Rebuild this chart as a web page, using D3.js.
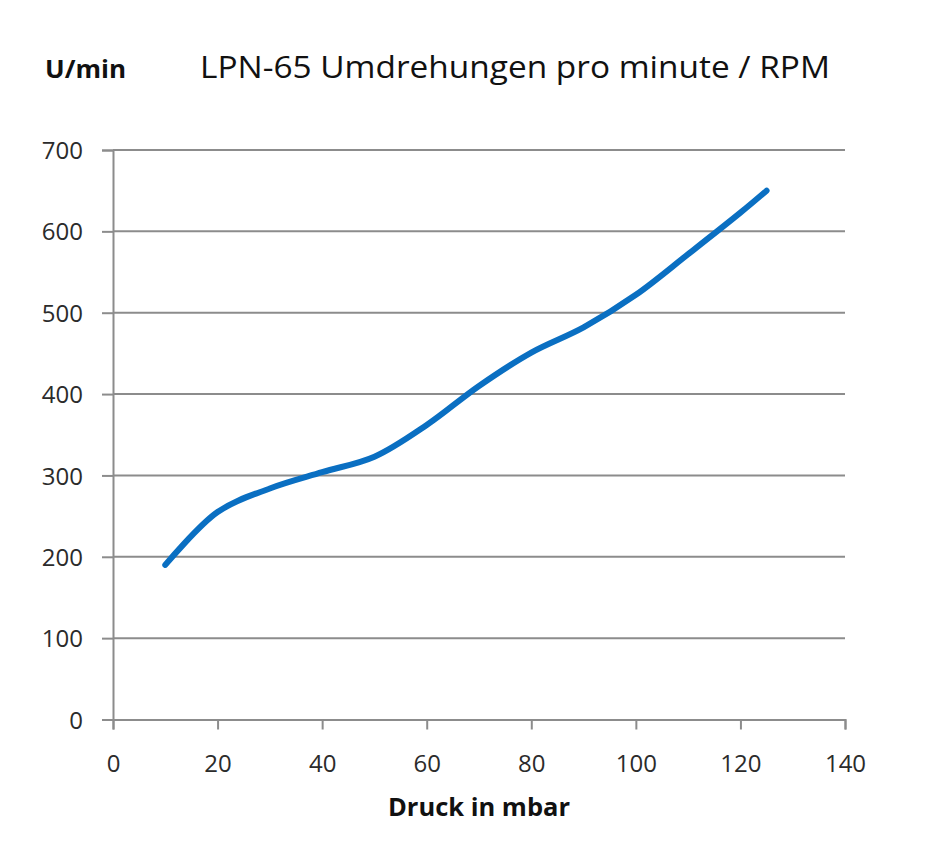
<!DOCTYPE html>
<html>
<head>
<meta charset="utf-8">
<script src="https://cdn.jsdelivr.net/npm/d3@7"></script>
<style>
  body { margin: 0; background: #fff; }
</style>
</head>
<body>
<div id="chart"></div>
<script>
const WIDTH = 936;
const HEIGHT = 868;

// values
const pressure = [10, 20, 30, 40, 50, 60, 70, 80, 90, 100, 110, 120, 125];
const rpm = [190, 255, 284, 304, 323, 362, 410, 451, 482, 522, 572, 623, 650];
const xTicks = [0, 20, 40, 60, 80, 100, 120, 140];
const yTicks = [0, 100, 200, 300, 400, 500, 600, 700];

const FONT = "'Open Sans', 'Noto Sans', sans-serif";
const GRID = "#8c8c8c";

const plotLeft = 113, plotRight = 845, plotTop = 150, plotBottom = 719.5;

var svg = d3.select("#chart").append("svg")
    .attr("width", WIDTH)
    .attr("height", HEIGHT);

var xScale = d3.scaleLinear().domain([0, 140]).range([plotLeft, plotRight]);
var yScale = d3.scaleLinear().domain([0, 700]).range([plotBottom, plotTop]);

// horizontal grid lines
svg.append("g")
    .selectAll("line")
    .data(yTicks.slice(1))
    .enter()
    .append("line")
        .attr("x1", plotLeft)
        .attr("x2", plotRight)
        .attr("y1", d => yScale(d))
        .attr("y2", d => yScale(d))
        .attr("stroke", GRID)
        .attr("stroke-width", 2);

var xAxis = svg.append("g")
    .attr("transform", `translate(0,${plotBottom})`)
    .call(d3.axisBottom(xScale).tickValues(xTicks).tickSize(10).tickPadding(14));

var yAxis = svg.append("g")
    .attr("transform", `translate(${plotLeft},0)`)
    .call(d3.axisLeft(yScale).tickValues(yTicks).tickSize(11).tickPadding(19));

[xAxis, yAxis].forEach(ax => {
    ax.select(".domain").attr("stroke", GRID).attr("stroke-width", 2);
    ax.selectAll(".tick line").attr("stroke", GRID).attr("stroke-width", 2);
    ax.selectAll(".tick text")
        .attr("fill", "#2b2b2b")
        .style("font-family", FONT)
        .style("font-size", "24px");
});
xAxis.selectAll(".tick text").attr("y", 52.5).attr("dy", 0);
yAxis.selectAll(".tick text").attr("dy", "0.36em");

var line = d3.line()
    .x((d, i) => xScale(pressure[i]))
    .y(d => yScale(d))
    .curve(d3.curveCatmullRom.alpha(0.5));

svg.append("path")
    .datum(rpm)
    .attr("fill", "none")
    .attr("stroke", "#0a6fc2")
    .attr("stroke-width", 6)
    .attr("stroke-linecap", "round")
    .attr("d", line);

svg.append("text")
    .attr("x", 200)
    .attr("y", 78)
    .attr("textLength", 630)
    .attr("lengthAdjust", "spacingAndGlyphs")
    .style("font-family", FONT)
    .style("font-size", "31px")
    .attr("fill", "#111")
    .text("LPN-65 Umdrehungen pro minute / RPM");

svg.append("text")
    .attr("x", 45)
    .attr("y", 78)
    .attr("textLength", 81)
    .attr("lengthAdjust", "spacingAndGlyphs")
    .style("font-family", FONT)
    .style("font-size", "25px")
    .style("font-weight", "bold")
    .attr("fill", "#111")
    .text("U/min");

svg.append("text")
    .attr("x", 479)
    .attr("y", 816)
    .attr("text-anchor", "middle")
    .attr("textLength", 182)
    .attr("lengthAdjust", "spacingAndGlyphs")
    .style("font-family", FONT)
    .style("font-size", "25px")
    .style("font-weight", "bold")
    .attr("fill", "#111")
    .text("Druck in mbar");
</script>
</body>
</html>
